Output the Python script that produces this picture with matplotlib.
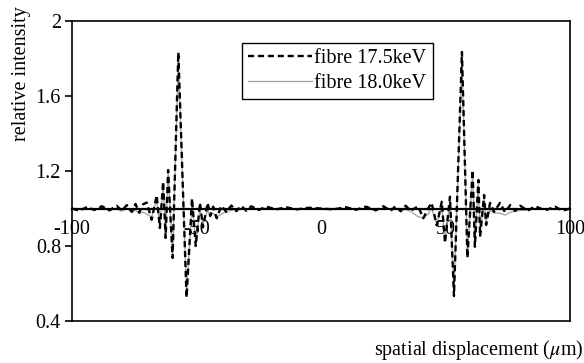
import matplotlib.pyplot as plt

plt.rcParams['font.family'] = ['Liberation Serif', 'DejaVu Serif']
plt.rcParams['mathtext.fontset'] = 'stix'
plt.rcParams['axes.unicode_minus'] = False

# spatial displacement (um)
x_pos = [-100, -97, -94, -91, -88, -85, -82, -80, -78, -76, -74.5, -73, -71.5, -70,
         -68, -66, -64.7, -63.4, -62.4, -61.4, -59.6, -57.3, -54, -51.8, -50.3, -48.6,
         -47.4, -45.5, -44.5, -43.3, -41.9, -40, -38, -36, -34, -32, -30, -28, -25,
         -22, -18, -14, -10, -5, 0, 5, 10, 14, 18, 22, 25, 28, 30, 32, 34, 36, 37.5,
         39, 41.1, 43, 44.4, 46.5, 48.5, 49.8, 51.8, 53.4, 56.6, 58.8, 60.9, 61.8,
         63.2, 63.9, 65.5, 66.3, 67.9, 69.5, 71.9, 73.9, 76, 78, 80, 83, 86, 90, 94,
         97, 100]

# fibre 17.5keV
i_175 = [1.0, 0.988, 1.008, 0.992, 1.012, 0.99, 1.014, 0.988, 1.018, 0.982, 1.024, 0.978,
         1.022, 1.032, 0.94, 1.07, 0.896, 1.143, 0.843, 1.205, 0.736, 1.833, 0.525, 1.054,
         0.80, 1.03, 0.90, 1.03, 0.96, 1.01, 0.948, 1.014, 0.982, 1.016, 0.986, 1.014, 0.988,
         1.012, 0.992, 1.01, 0.995, 1.007, 0.995, 1.004, 1.0, 0.995, 1.007, 0.993, 1.01,
         0.99, 1.012, 0.988, 1.013, 0.985, 1.015, 0.988, 1.0, 1.012, 0.948, 1.0, 1.03, 0.91,
         1.036, 0.816, 1.063, 0.533, 1.835, 0.736, 1.205, 0.796, 1.152, 0.85, 1.072,
         0.912, 1.03, 0.982, 1.03, 0.98, 1.018, 0.987, 1.015, 0.988, 1.012, 0.99, 1.01,
         0.988, 1.0]

# fibre 18.0keV
i_180 = [1.0, 0.995, 1.0, 0.995, 1.005, 0.99, 1.0, 0.985, 1.0, 0.98, 0.99, 0.975,
         0.98, 0.97, 0.955, 1.05, 0.9, 1.13, 0.85, 1.19, 0.75, 1.8, 0.55, 1.03, 0.82,
         1.0, 0.92, 0.99, 0.96, 0.975, 0.955, 0.97, 0.985, 0.99, 0.995, 1.0, 0.995, 1.0,
         0.998, 1.002, 0.998, 1.0, 0.998, 1.0, 1.0, 1.0, 1.0, 0.998, 1.0, 0.997, 1.0,
         0.995, 0.998, 0.99, 0.995, 0.985, 0.97, 0.956, 0.95, 0.97, 1.0, 0.92, 1.01, 0.83,
         1.04, 0.55, 1.8, 0.75, 1.19, 0.81, 1.13, 0.86, 1.05, 0.93, 0.99, 0.976, 0.975,
         0.965, 0.98, 0.985, 0.99, 0.99, 1.0, 0.995, 1.0, 0.995, 1.0]

fig = plt.figure(figsize=(5.84, 3.63), dpi=100)
ax = fig.add_axes([72 / 584, 1 - 321 / 363, 498 / 584, 300 / 363])

ax.plot(x_pos, i_180, color='#a0a0a0', lw=0.9, label='fibre 18.0keV', zorder=2)
dashed, = ax.plot(x_pos, i_175, color='black', lw=1.7, label='fibre 17.5keV', zorder=3)
dashed.set_dashes((2.6, 1.6))

ax.set_xlim(-100, 100)
ax.set_ylim(0.4, 2.0)
ax.set_yticks([0.4, 0.8, 1.2, 1.6, 2.0])
ax.set_yticklabels(['0.4', '0.8', '1.2', '1.6', '2'])
ax.set_xticks([-100, -50, 0, 50, 100])
ax.set_xticklabels(['-100', '-50', '0', '50', '100'])

ax.spines['bottom'].set_position(('data', 1.0))
ax.spines['bottom'].set_linewidth(1.6)
for side in ['left', 'top', 'right']:
    ax.spines[side].set_linewidth(1.2)
ax.plot([0, 1], [0, 0], transform=ax.transAxes, color='black', lw=1.2, clip_on=False)

ax.tick_params(axis='x', length=0, pad=8, labelsize=14.5)
ax.tick_params(axis='y', direction='out', length=5, width=1.2, pad=3, labelsize=14.5)

handles, labels = ax.get_legend_handles_labels()
leg = ax.legend(handles[::-1], labels[::-1], loc='upper left',
                bbox_to_anchor=(242 / 584, 1 - 43 / 363), bbox_transform=fig.transFigure,
                fontsize=14.5, fancybox=False, framealpha=1, edgecolor='black',
                handlelength=3.2, handletextpad=0.1, borderpad=0.3, labelspacing=0.28,
                borderaxespad=0)
leg.get_frame().set_linewidth(1.0)

fig.text(22 / 584, 1 - 74 / 363, 'relative intensity', rotation=90,
         ha='center', va='center', fontsize=14.5)
fig.text(583 / 584, 1 - 350 / 363, r'spatial displacement ($\mu$m)',
         ha='right', va='center', fontsize=14.5)

fig.savefig('out.png', dpi=100)
